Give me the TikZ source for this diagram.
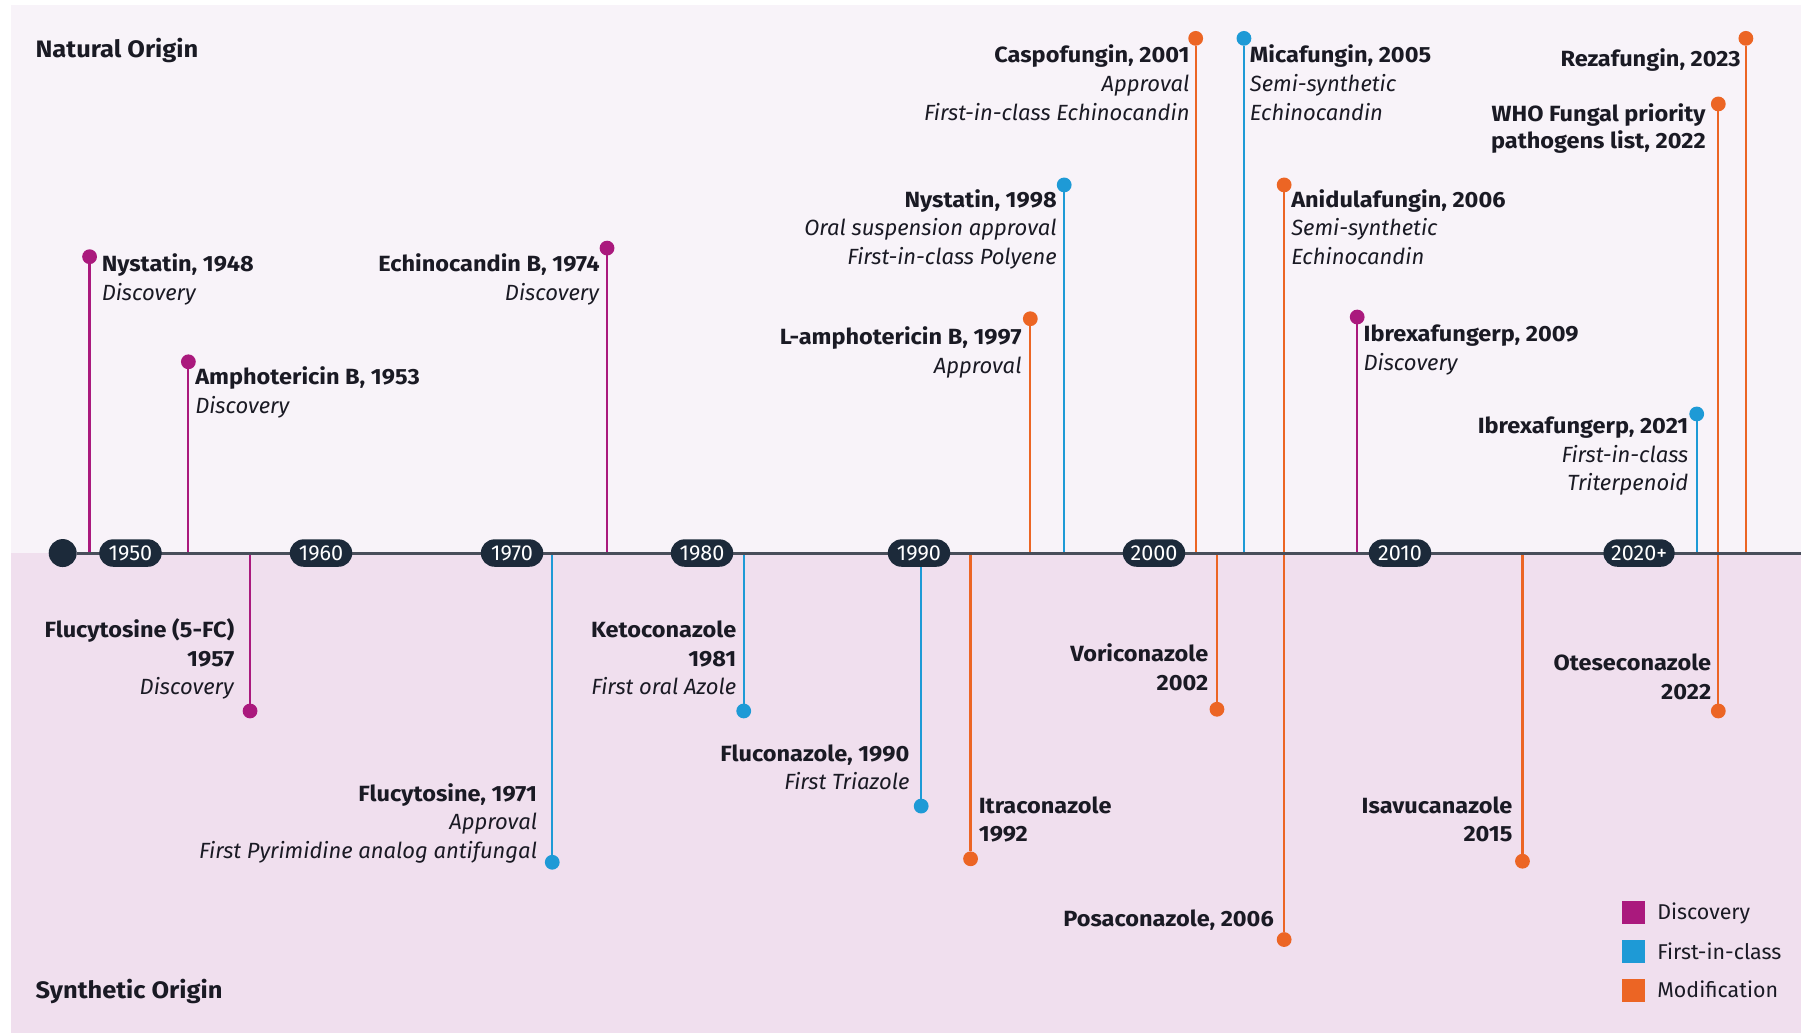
\documentclass[tikz,border=0pt]{standalone}
\usepackage{fontspec}
\setmainfont{Fira Sans}[BoldFeatures={FakeStretch=1.07}]
\definecolor{mag}{RGB}{170,25,125}
\definecolor{blu}{RGB}{30,154,214}
\definecolor{orng}{RGB}{236,101,36}
\definecolor{navy}{RGB}{28,42,58}
\definecolor{ink}{RGB}{26,26,36}
\definecolor{bgtop}{RGB}{248,243,249}
\definecolor{bgbot}{RGB}{240,223,238}
\definecolor{axisc}{RGB}{72,78,90}
\begin{document}
\begin{tikzpicture}[x=0.5743pt,y=-0.5743pt,
  every node/.style={inner sep=0pt, outer sep=0pt},
  lbl/.style={font=\fontsize{11}{14.3}\selectfont, text=ink, execute at begin node={\rule{0pt}{10pt}}},
  lr/.style={lbl, anchor=north west, align=left},
  ll/.style={lbl, anchor=north east, align=right},
  evdot/.style={circle, fill=#1, minimum size=7.4pt},
  evstem/.style={draw=#1, line width=1.1pt},
  yrpill/.style={fill=navy, rounded corners=6.8pt, minimum width=31.2pt, minimum height=13.7pt, text=white, font=\fontsize{10.8}{12}\selectfont},
  legsq/.style={fill=#1, minimum size=11.3pt},
  legtxt/.style={anchor=base west, font=\fontsize{10.7}{13}\selectfont, text=ink},
  origin/.style={anchor=base west, font=\fontsize{11.9}{15}\selectfont\bfseries, text=ink},
]
\useasboundingbox (0,0) rectangle (1568,899);
% backgrounds
\fill[bgtop] (9.7,4.4) rectangle (1568,481.5);
\fill[bgbot] (9.7,481.5) rectangle (1568,899);

% titles
\node[origin] (nat) at (31,49.9) {Natural Origin};
\node[origin] (syn) at (31,869) {Synthetic Origin};

% axis
\node[circle, fill=navy, minimum size=14pt] (start) at (54.6,481.5) {};
\coordinate (axend) at (1568,481.5);

% dots
\node[evdot=mag]  (d1)  at (78,223.5) {};
\node[evdot=mag]  (d2)  at (164,315) {};
\node[evdot=mag]  (d3)  at (528.5,216) {};
\node[evdot=orng] (d4)  at (897,277.5) {};
\node[evdot=blu]  (d5)  at (926.5,161) {};
\node[evdot=orng] (d6)  at (1041,33.4) {};
\node[evdot=blu]  (d7)  at (1083,33.4) {};
\node[evdot=orng] (d8)  at (1118,161) {};
\node[evdot=mag]  (d9)  at (1181.6,276) {};
\node[evdot=blu]  (d10) at (1477.2,360.4) {};
\node[evdot=orng] (d11) at (1496,90.5) {};
\node[evdot=orng] (d12) at (1520,33.4) {};
\node[evdot=mag]  (d13) at (217.7,619) {};
\node[evdot=blu]  (d14) at (480.8,750.7) {};
\node[evdot=blu]  (d15) at (647.5,619) {};
\node[evdot=blu]  (d16) at (802,701.8) {};
\node[evdot=orng] (d17) at (845,747.7) {};
\node[evdot=orng] (d18) at (1059.5,617.5) {};
\node[evdot=orng] (d19) at (1118,818) {};
\node[evdot=orng] (d20) at (1325.5,749.8) {};
\node[evdot=orng] (d21) at (1496,619) {};

% stems
\draw[evstem=mag]  (d1) -- (d1 |- axend);
\draw[evstem=mag]  (d2) -- (d2 |- axend);
\draw[evstem=mag]  (d3) -- (d3 |- axend);
\draw[evstem=orng] (d4) -- (d4 |- axend);
\draw[evstem=blu]  (d5) -- (d5 |- axend);
\draw[evstem=orng] (d6) -- (d6 |- axend);
\draw[evstem=blu]  (d7) -- (d7 |- axend);
\draw[evstem=orng] (d8) -- (d19);
\draw[evstem=mag]  (d9) -- (d9 |- axend);
\draw[evstem=blu]  (d10) -- (d10 |- axend);
\draw[evstem=orng] (d11) -- (d21);
\draw[evstem=orng] (d12) -- (d12 |- axend);
\draw[evstem=mag]  (d13) -- (d13 |- axend);
\draw[evstem=blu]  (d14) -- (d14 |- axend);
\draw[evstem=blu]  (d15) -- (d15 |- axend);
\draw[evstem=blu]  (d16) -- (d16 |- axend);
\draw[evstem=orng] (d17) -- (d17 |- axend);
\draw[evstem=orng] (d18) -- (d18 |- axend);
\draw[evstem=orng] (d20) -- (d20 |- axend);

\draw[axisc, line width=1.5pt] (start) -- (axend);

% year pills
\node[yrpill] (y1950) at (113.6,481.5) {1950};
\node[yrpill] (y1960) at (279.5,481.5) {1960};
\node[yrpill] (y1970) at (445.8,481.5) {1970};
\node[yrpill] (y1980) at (611.2,481.5) {1980};
\node[yrpill] (y1990) at (800.1,481.5) {1990};
\node[yrpill] (y2000) at (1004.7,481.5) {2000};
\node[yrpill] (y2010) at (1218.9,481.5) {2010};
\node[yrpill, minimum width=35.6pt] (y2020) at (1427,481.5) {2020+};

% labels - natural
\node[lr] (l1) at (88.6,221.2) {\textbf{Nystatin, 1948}\\\textit{Discovery}};
\node[lr] (l2) at (170,319.2) {\textbf{Amphotericin B, 1953}\\\textit{Discovery}};
\node[ll] (l3) at (522,221.2) {\textbf{Echinocandin B, 1974}\\\textit{Discovery}};
\node[ll] (l4) at (889.4,284.6) {\textbf{L-amphotericin B, 1997}\\\textit{Approval}};
\node[ll] (l5) at (920,164.9) {\textbf{Nystatin, 1998}\\\textit{Oral suspension approval}\\\textit{First-in-class Polyene}};
\node[ll] (l6) at (1035.6,39.2) {\textbf{Caspofungin, 2001}\\\textit{Approval}\\\textit{First-in-class Echinocandin}};
\node[lr] (l7) at (1088.2,39.2) {\textbf{Micafungin, 2005}\\\textit{Semi-synthetic}\\\textit{Echinocandin}};
\node[lr] (l8) at (1124.2,164.9) {\textbf{Anidulafungin, 2006}\\\textit{Semi-synthetic}\\\textit{Echinocandin}};
\node[lr] (l9) at (1187.2,283) {\textbf{Ibrexafungerp, 2009}\\\textit{Discovery}};
\node[ll] (l10) at (1469.9,362.8) {\textbf{Ibrexafungerp, 2021}\\\textit{First-in-class}\\\textit{Triterpenoid}};
\node[ll, font=\fontsize{11}{13.6}\selectfont] (l11) at (1485,90) {\textbf{WHO Fungal priority}\\\textbf{pathogens list, 2022}};
\node[ll] (l12) at (1515.5,40.6) {\textbf{Rezafungin, 2023}};

% labels - synthetic
\node[ll] (l13) at (204,538.6) {\textbf{Flucytosine (5-FC)}\\\textbf{1957}\\\textit{Discovery}};
\node[ll] (l14) at (467.6,682.1) {\textbf{Flucytosine, 1971}\\\textit{Approval}\\\textit{First Pyrimidine analog antifungal}};
\node[ll] (l15) at (641,540.6) {\textbf{Ketoconazole}\\\textbf{1981}\\\textit{First oral Azole}};
\node[ll] (l16) at (791.7,648.3) {\textbf{Fluconazole, 1990}\\\textit{First Triazole}};
\node[lr] (l17) at (852.2,693.3) {\textbf{Itraconazole}\\\textbf{1992}};
\node[ll] (l18) at (1052,560.6) {\textbf{Voriconazole}\\\textbf{2002}};
\node[ll] (l19) at (1109,789.6) {\textbf{Posaconazole, 2006}};
\node[ll] (l20) at (1316.8,693.3) {\textbf{Isavucanazole}\\\textbf{2015}};
\node[ll] (l21) at (1489.8,569.5) {\textbf{Oteseconazole}\\\textbf{2022}};

% legend
\node[legsq=mag]  (q1) at (1422,794.2) {};
\node[legsq=blu]  (q2) at (1422,828.6) {};
\node[legsq=orng] (q3) at (1422,862.4) {};
\node[legtxt] (t1) at (1442.9,800.6) {Discovery};
\node[legtxt] (t2) at (1442.9,835) {First-in-class};
\node[legtxt] (t3) at (1442.9,868.8) {Modification};
\end{tikzpicture}
\end{document}
